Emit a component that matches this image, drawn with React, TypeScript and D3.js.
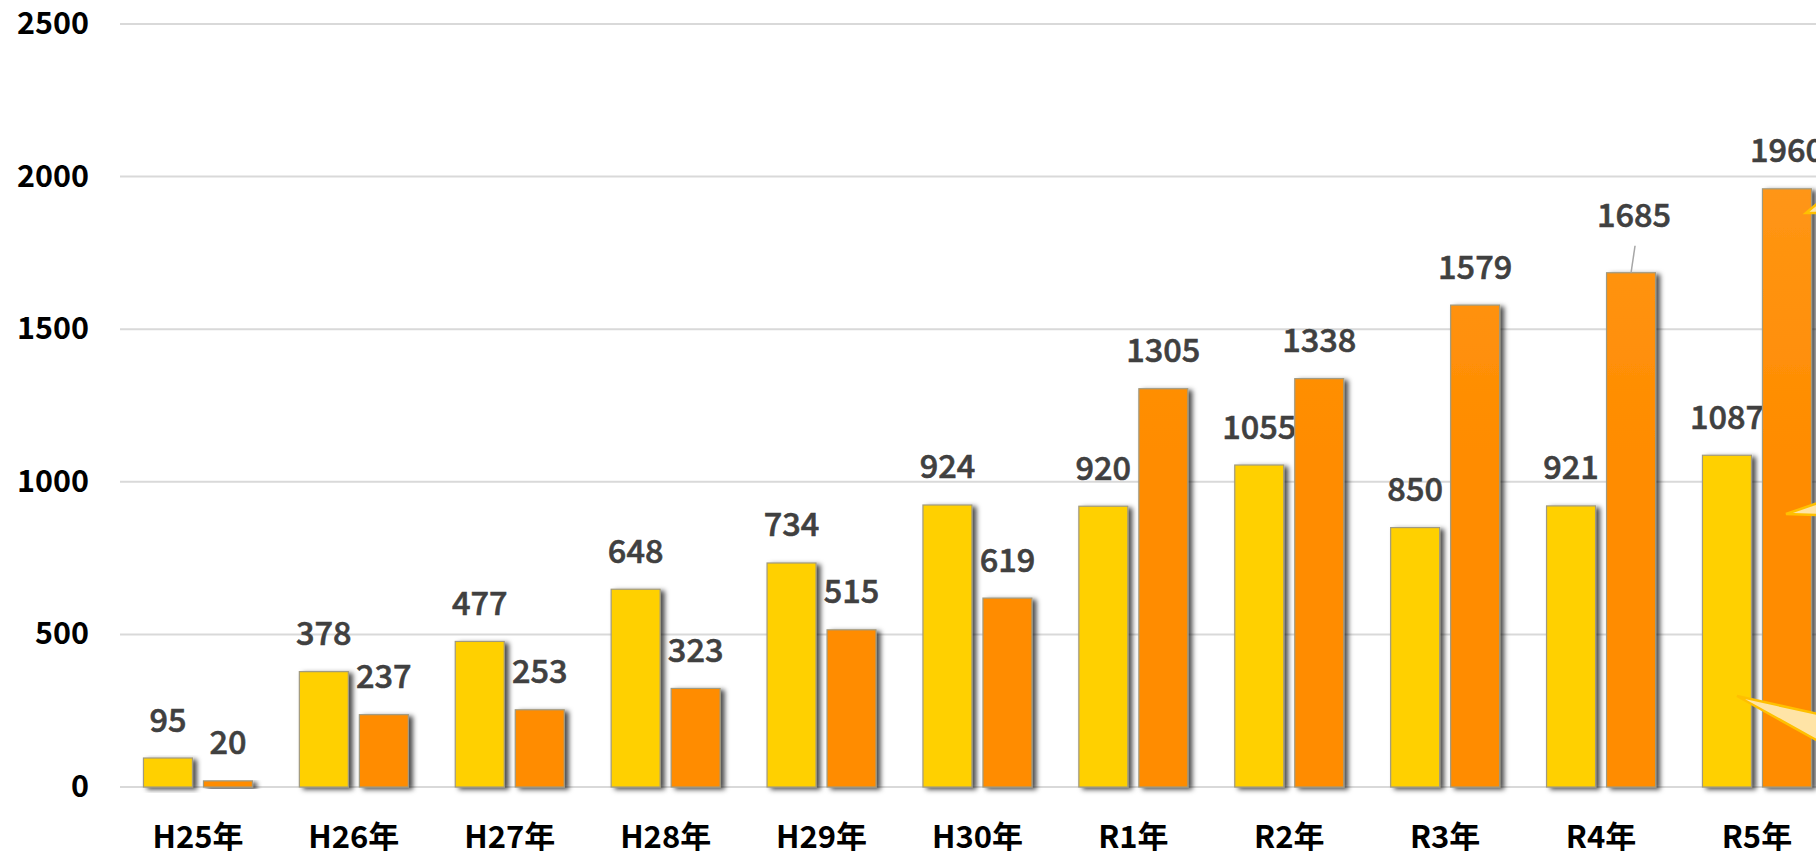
import { useEffect, useRef } from 'react';
import * as d3 from 'd3';

const CATEGORIES = ['H25年', 'H26年', 'H27年', 'H28年', 'H29年', 'H30年', 'R1年', 'R2年', 'R3年', 'R4年', 'R5年'];
const SERIES_A = [95, 378, 477, 648, 734, 924, 920, 1055, 850, 921, 1087];
const SERIES_B = [20, 237, 253, 323, 515, 619, 1305, 1338, 1579, 1685, 1960];
const Y_TICKS = [0, 500, 1000, 1500, 2000, 2500];

const WIDTH = 1816;
const HEIGHT = 851;
const FONT = '"Noto Sans CJK JP", "Noto Sans", sans-serif';

export default function App() {
  const svgRef = useRef<SVGSVGElement | null>(null);

  useEffect(() => {
    if (!svgRef.current) return;

    const svg = d3.select(svgRef.current);
    svg.selectAll('*').remove();

    const x = d3.scaleBand<string>().domain(CATEGORIES).range([120, 120 + 155.9 * 11]);
    const y = d3.scaleLinear().domain([0, 2500]).range([787, 24]);
    const barW = 49;
    const gap = 11;

    const defs = svg.append('defs');
    const addGradient = (id: string, top: string, bottom: string) => {
      const g = defs.append('linearGradient')
        .attr('id', id)
        .attr('gradientUnits', 'userSpaceOnUse')
        .attr('x1', 0).attr('y1', y(2000)).attr('x2', 0).attr('y2', y(0));
      g.append('stop').attr('offset', '0%').attr('stop-color', top);
      g.append('stop').attr('offset', '45%').attr('stop-color', bottom);
      g.append('stop').attr('offset', '100%').attr('stop-color', bottom);
    };
    addGradient('gradA', '#ffd600', '#ffd000');
    addGradient('gradB', '#ff9616', '#ff8c00');

    // soft shadow falling to the right of each bar
    const filter = defs.append('filter')
      .attr('id', 'barShadow')
      .attr('x', '-30%').attr('y', '-10%').attr('width', '170%').attr('height', '130%');
    filter.append('feDropShadow')
      .attr('dx', 4).attr('dy', 2)
      .attr('stdDeviation', 2.8)
      .attr('flood-color', '#000')
      .attr('flood-opacity', 0.7);

    // Gridlines
    svg.selectAll('line.grid')
      .data(Y_TICKS)
      .join('line')
      .attr('class', 'grid')
      .attr('x1', 120)
      .attr('x2', WIDTH)
      .attr('y1', d => y(d))
      .attr('y2', d => y(d))
      .attr('stroke', '#d9d9d9')
      .attr('stroke-width', 2);

    // Y axis labels
    svg.selectAll('text.ytick')
      .data(Y_TICKS)
      .join('text')
      .attr('class', 'ytick')
      .attr('x', 89)
      .attr('y', d => y(d) - 3)
      .attr('text-anchor', 'end')
      .attr('dominant-baseline', 'central')
      .attr('fill', '#000')
      .attr('font-family', FONT)
      .attr('font-weight', 700)
      .attr('font-size', '30.5px')
      .text(d => d);

    // X axis labels
    svg.selectAll('text.xtick')
      .data(CATEGORIES)
      .join('text')
      .attr('class', 'xtick')
      .attr('x', d => x(d)! + x.bandwidth() / 2)
      .attr('y', 834)
      .attr('text-anchor', 'middle')
      .attr('dominant-baseline', 'central')
      .attr('fill', '#000')
      .attr('font-family', FONT)
      .attr('font-weight', 700)
      .attr('font-size', '31px')
      .text(d => d);

    const mid = (c: string) => x(c)! + x.bandwidth() / 2;
    const seriesList = [
      { values: SERIES_A, fill: 'url(#gradA)', left: (c: string) => mid(c) - gap / 2 - barW },
      { values: SERIES_B, fill: 'url(#gradB)', left: (c: string) => mid(c) + gap / 2 },
    ];

    seriesList.forEach((s, si) => {
      const rows = CATEGORIES.map((c, i) => ({ c, v: s.values[i] }));

      svg.append('g')
        .selectAll('rect')
        .data(rows)
        .join('rect')
        .attr('x', d => s.left(d.c))
        .attr('y', d => y(d.v))
        .attr('width', barW)
        .attr('height', d => y(0) - y(d.v))
        .attr('fill', s.fill)
        .attr('stroke', '#a09a80')
        .attr('stroke-width', 1.2)
        .attr('filter', 'url(#barShadow)');

      // R4 orange label sits higher, with a leader line down to the bar
      const isLifted = (d: { c: string }) => si === 1 && d.c === 'R4年';

      svg.append('g')
        .selectAll('text')
        .data(rows)
        .join('text')
        .attr('x', d => s.left(d.c) + barW / 2 + (isLifted(d) ? 3 : 0))
        .attr('y', d => y(d.v) - (isLifted(d) ? 60 : 41))
        .attr('text-anchor', 'middle')
        .attr('dominant-baseline', 'central')
        .attr('fill', '#404040')
        .attr('stroke', '#404040')
        .attr('stroke-width', 0.6)
        .attr('font-family', FONT)
        .attr('font-weight', 500)
        .attr('font-size', '32.5px')
        .text(d => d.v);
    });

    const r4 = SERIES_B[CATEGORIES.indexOf('R4年')];
    const r4x = seriesList[1].left('R4年') + barW / 2;
    svg.append('line')
      .attr('x1', r4x)
      .attr('x2', r4x + 4)
      .attr('y1', y(r4))
      .attr('y2', y(r4) - 27)
      .attr('stroke', '#a6a6a6')
      .attr('stroke-width', 1.5);

    // Pointers of the speech bubbles cut off at the right edge
    const callouts: [number, number][][] = [
      [[1806, 213], [WIDTH + 2, 203], [WIDTH + 2, 213]],
      [[1786, 514], [WIDTH + 2, 503], [WIDTH + 2, 515]],
      [[1737, 696], [WIDTH + 2, 714], [WIDTH + 2, 741]],
    ];
    svg.append('g')
      .selectAll('path')
      .data(callouts)
      .join('path')
      .attr('d', d => d3.line()(d) + 'Z')
      .attr('fill', '#ffe4a6')
      .attr('stroke', '#ffc000')
      .attr('stroke-width', 2.5);
  }, []);

  return (
    <div style={{ position: 'absolute', left: 0, top: 0, width: WIDTH, height: HEIGHT, overflow: 'hidden', background: '#fff' }}>
      <svg ref={svgRef} width={WIDTH} height={HEIGHT} style={{ display: 'block' }} />
    </div>
  );
}
